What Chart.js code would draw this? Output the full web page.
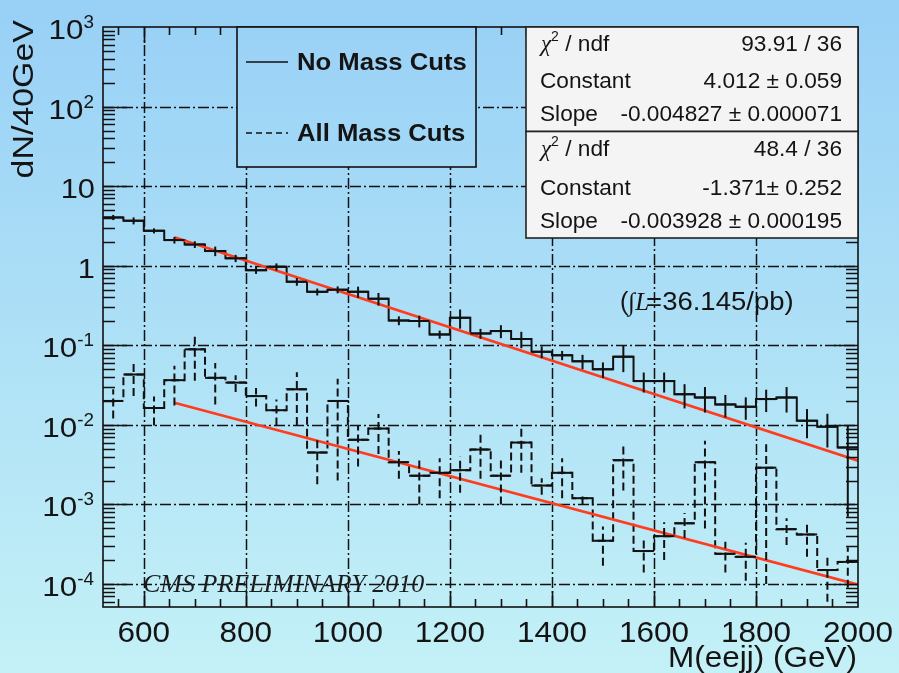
<!DOCTYPE html>
<html>
<head>
<meta charset="utf-8">
<script src="https://cdn.jsdelivr.net/npm/chart.js@4.4.1/dist/chart.umd.min.js"></script>
<style>
  html, body { margin: 0; padding: 0; overflow: hidden; }
  canvas { display: block; }
</style>
</head>
<body>
<canvas id="chart" width="899" height="673"></canvas>
<script>
// bins of 40 GeV, low edges
const binLow = [520, 560, 600, 640, 680, 720, 760, 800, 840, 880, 920, 960, 1000, 1040, 1080, 1120, 1160, 1200, 1240,
  1280, 1320, 1360, 1400, 1440, 1480, 1520, 1560, 1600, 1640, 1680, 1720, 1760, 1800, 1840, 1880, 1920, 1960];
const binWidth = 40;

// "No Mass Cuts" histogram
const noCuts = [4.05, 3.68, 2.75, 2.1, 1.85, 1.53, 1.24, 0.88, 0.97, 0.63, 0.47, 0.5, 0.471, 0.385, 0.205, 0.202, 0.137,
  0.222, 0.141, 0.151, 0.12, 0.083, 0.075, 0.063, 0.05, 0.072, 0.0355, 0.0355, 0.0243, 0.0221, 0.0181, 0.0169, 0.0211,
  0.0221, 0.0113, 0.0095, 0.0052];
const noCutsErr = [0.3, 0.37, 0.2, 0.2, 0.18, 0.21, 0.13, 0.09, 0.1, 0.07, 0.047, 0.05, 0.075, 0.07, 0.026, 0.034, 0.016,
  0.06, 0.02, 0.028, 0.028, 0.014, 0.01, 0.013, 0.011, 0.026, 0.01, 0.01, 0.0082, 0.0078, 0.0057, 0.0053, 0.0066,
  0.0078, 0.0045, 0.0043, 0.0045];

// "All Mass Cuts" histogram
const allCuts = [0.02, 0.043, 0.0163, 0.0365, 0.089, 0.039, 0.034, 0.023, 0.0153, 0.028, 0.0045, 0.02, 0.0065, 0.009,
  0.0034, 0.0023, 0.0025, 0.0027, 0.0049, 0.0023, 0.006, 0.00173, 0.0025, 0.0012, 0.00035, 0.0036, 0.00026, 0.0004,
  0.00058, 0.0034, 0.00024, 0.00022, 0.0029, 0.00049, 0.00042, 0.00015, 0.00019];
const allCutsErr = [0.008, 0.02, 0.0065, 0.019, 0.053, 0.021, 0.008, 0.006, 0.0055, 0.018, 0.0027, 0.018, 0.0035, 0.0047,
  0.0013, 0.0013, 0.0013, 0.0013, 0.0028, 0.0013, 0.0035, 0.0004, 0.0013, 0.0002, 0.00018, 0.0021, 0.00012, 0.0002,
  0.0002, 0.0029, 0.0001, 0.00011, 0.0028, 0.00018, 0.0002, 0.00009, 0.0001];

// exponential fits exp(c + s*x)
const fitConst = [4.012, -1.371];
const fitSlope = [-0.004827, -0.003928];
const fitRange = [660, 2000];

// axes
const xMin = 520, xMax = 2000;
const yMin = 5.15e-5, yMax = 1000;
const xTickLabels = [600, 800, 1000, 1200, 1400, 1600, 1800, 2000];
const yDecades = [-4, -3, -2, -1, 0, 1, 2, 3];

// stats boxes
const statRows = [
  [['chi', '93.91 / 36'], ['Constant', '4.012 \u00b1 0.059'], ['Slope', '-0.004827 \u00b1 0.000071']],
  [['chi', '48.4 / 36'], ['Constant', '-1.371\u00b1 0.252'], ['Slope', '-0.003928 \u00b1 0.000195']]
];

const SANS = '"Liberation Sans", Arial, sans-serif';
const SERIF = '"Liberation Serif", "Times New Roman", serif';

function histPoints(vals) {
  const pts = binLow.map((x, i) => ({ x: x, y: vals[i] }));
  pts.push({ x: binLow[binLow.length - 1] + binWidth, y: vals[vals.length - 1] });
  return pts;
}

function fitPoints(k) {
  return fitRange.map(x => ({ x: x, y: Math.exp(fitConst[k] + fitSlope[k] * x) }));
}

function bgGradient(ctx, h) {
  const g = ctx.createLinearGradient(0, 0, 0, h);
  g.addColorStop(0, 'rgb(152,208,246)');
  g.addColorStop(1, 'rgb(196,241,247)');
  return g;
}

// text with slight horizontal stretch like the original
function txt(ctx, s, x, y, font, align, sx, color) {
  ctx.save();
  ctx.font = font;
  ctx.fillStyle = color || '#141414';
  ctx.textAlign = 'left';
  ctx.textBaseline = 'alphabetic';
  const w = ctx.measureText(s).width * sx;
  const x0 = align === 'right' ? x - w : (align === 'center' ? x - w / 2 : x);
  ctx.translate(x0, y);
  ctx.scale(sx, 1);
  ctx.fillText(s, 0, 0);
  ctx.restore();
  return w;
}

function textWidth(ctx, s, font, sx) {
  ctx.save();
  ctx.font = font;
  const w = ctx.measureText(s).width * sx;
  ctx.restore();
  return w;
}

const backgroundPlugin = {
  id: 'bg',
  beforeDraw(chart) {
    const ctx = chart.ctx;
    ctx.save();
    ctx.fillStyle = bgGradient(ctx, chart.height);
    ctx.fillRect(0, 0, chart.width, chart.height);
    ctx.restore();
  }
};

// dash-dot grid
const gridPlugin = {
  id: 'rootGrid',
  beforeDatasetsDraw(chart) {
    const ctx = chart.ctx, a = chart.chartArea;
    const xs = chart.scales.x, ys = chart.scales.y;
    ctx.save();
    ctx.strokeStyle = '#111';
    ctx.lineWidth = 1.5;
    ctx.setLineDash([11, 3, 2, 3]);
    xTickLabels.forEach(v => {
      if (v >= xMax) return;
      const px = Math.round(xs.getPixelForValue(v)) + 0.5;
      ctx.beginPath();
      ctx.moveTo(px, a.bottom);
      ctx.lineTo(px, a.top);
      ctx.stroke();
    });
    yDecades.forEach(k => {
      const v = Math.pow(10, k);
      if (v >= yMax) return;
      const py = Math.round(ys.getPixelForValue(v)) + 0.5;
      ctx.beginPath();
      ctx.moveTo(a.left, py);
      ctx.lineTo(a.right, py);
      ctx.stroke();
    });
    ctx.restore();
  }
};

// error bars of both histograms
const errorPlugin = {
  id: 'errBars',
  afterDatasetsDraw(chart) {
    const ctx = chart.ctx;
    const xs = chart.scales.x, ys = chart.scales.y;
    const sets = [
      { vals: noCuts, errs: noCutsErr, dash: [] },
      { vals: allCuts, errs: allCutsErr, dash: [8, 4] }
    ];
    ctx.save();
    ctx.beginPath();
    ctx.rect(chart.chartArea.left, chart.chartArea.top, chart.chartArea.width, chart.chartArea.height);
    ctx.clip();
    ctx.strokeStyle = '#111';
    ctx.lineWidth = 2;
    sets.forEach(s => {
      s.vals.forEach((v, i) => {
        const xc = xs.getPixelForValue(binLow[i] + binWidth / 2);
        const lo = Math.max(v - s.errs[i], yMin);
        const hi = v + s.errs[i];
        ctx.setLineDash(s.dash);
        ctx.beginPath();
        ctx.moveTo(xc, ys.getPixelForValue(lo));
        ctx.lineTo(xc, ys.getPixelForValue(hi));
        ctx.stroke();
        ctx.setLineDash([]);
        const py = ys.getPixelForValue(v);
        ctx.beginPath();
        ctx.moveTo(xs.getPixelForValue(binLow[i]), py);
        ctx.lineTo(xs.getPixelForValue(binLow[i] + binWidth), py);
        ctx.stroke();
      });
    });
    ctx.restore();
  }
};

// frame, ticks, labels, legend, stats, texts
const decorPlugin = {
  id: 'decor',
  afterDraw(chart) {
    const ctx = chart.ctx, a = chart.chartArea;
    const xs = chart.scales.x, ys = chart.scales.y;
    ctx.save();
    ctx.strokeStyle = '#111';
    ctx.lineWidth = 1.6;
    ctx.setLineDash([]);

    // x ticks every 50 GeV, major every 200
    for (let v = 550; v < xMax; v += 50) {
      const px = Math.round(xs.getPixelForValue(v)) + 0.5;
      const len = (v % 200 === 0) ? 16 : 8;
      ctx.beginPath();
      ctx.moveTo(px, a.bottom); ctx.lineTo(px, a.bottom - len);
      ctx.moveTo(px, a.top); ctx.lineTo(px, a.top + len);
      ctx.stroke();
    }
    // y ticks, log minor
    for (let k = -5; k <= 2; k++) {
      for (let m = 1; m <= 9; m++) {
        const v = m * Math.pow(10, k);
        if (v < yMin || v > yMax) continue;
        const py = Math.round(ys.getPixelForValue(v)) + 0.5;
        const len = m === 1 ? 24 : 12;
        ctx.beginPath();
        ctx.moveTo(a.left, py); ctx.lineTo(a.left + len, py);
        ctx.moveTo(a.right, py); ctx.lineTo(a.right - len, py);
        ctx.stroke();
      }
    }
    ctx.strokeRect(a.left, a.top, a.right - a.left, a.bottom - a.top);

    // y tick labels
    const baseFont = '28px ' + SANS, supFont = '18px ' + SANS;
    yDecades.forEach(k => {
      const py = ys.getPixelForValue(Math.pow(10, k));
      if (k === 0 || k === 1) {
        txt(ctx, k === 0 ? '1' : '10', 95, py + 12, baseFont, 'right', 1.1);
      } else {
        const sup = String(k);
        const ws = textWidth(ctx, sup, supFont, 1.05);
        txt(ctx, sup, 94, py + 1, supFont, 'right', 1.05);
        txt(ctx, '10', 94 - ws, py + 12, baseFont, 'right', 1.12);
      }
    });
    // x tick labels
    xTickLabels.forEach(v => {
      txt(ctx, String(v), xs.getPixelForValue(v), 642, '30px ' + SANS, 'center', 1.05);
    });
    // axis titles
    txt(ctx, 'M(eejj) (GeV)', 857, 667, '30px ' + SANS, 'right', 1.05);
    ctx.save();
    ctx.translate(33, 20);
    ctx.rotate(-Math.PI / 2);
    txt(ctx, 'dN/40GeV', 0, 0, '29px ' + SANS, 'right', 1.17);
    ctx.restore();

    // legend box
    ctx.fillStyle = bgGradient(ctx, chart.height);
    ctx.fillRect(237, 27, 239, 140);
    ctx.strokeStyle = '#111';
    ctx.lineWidth = 1.6;
    ctx.strokeRect(237, 27, 239, 140);
    ctx.lineWidth = 1.6;
    ctx.beginPath(); ctx.moveTo(246, 62); ctx.lineTo(288, 62); ctx.stroke();
    ctx.setLineDash([6, 4]);
    ctx.beginPath(); ctx.moveTo(246, 133); ctx.lineTo(288, 133); ctx.stroke();
    ctx.setLineDash([]);
    txt(ctx, 'No Mass Cuts', 297, 70, 'bold 24px ' + SANS, 'left', 1.07);
    txt(ctx, 'All Mass Cuts', 297, 141, 'bold 24px ' + SANS, 'left', 1.07);

    // stats boxes
    const boxTop = [27, 131.5], boxH = [104.5, 106.5];
    const rowY = [[43, 80, 113], [148, 187, 220]];
    const statFont = '22px ' + SANS;
    statRows.forEach((rows, b) => {
      ctx.fillStyle = '#f4f4f4';
      ctx.fillRect(526, boxTop[b], 332, boxH[b]);
      ctx.strokeStyle = '#222';
      ctx.lineWidth = 1.6;
      ctx.strokeRect(526, boxTop[b], 332, boxH[b]);
      rows.forEach((r, i) => {
        const by = rowY[b][i] + 8;
        if (r[0] === 'chi') {
          const w1 = txt(ctx, '\u03c7', 541, by, 'italic 23px ' + SERIF, 'left', 1.0);
          const w2 = txt(ctx, '2', 541 + w1, by - 10, '14px ' + SANS, 'left', 1.0);
          txt(ctx, ' / ndf', 541 + w1 + w2, by, statFont, 'left', 1.03);
        } else {
          txt(ctx, r[0], 540, by, statFont, 'left', 1.03);
        }
        txt(ctx, r[1], 842, by, statFont, 'right', 1.03);
      });
    });

    // luminosity
    let lx = 620;
    const ly = 310;
    lx += txt(ctx, '(', lx, ly, '25px ' + SANS, 'left', 1.0);
    lx += txt(ctx, '\u222b', lx, ly, '25px ' + SERIF, 'left', 1.0);
    lx += txt(ctx, 'L', lx, ly, 'italic 25px ' + SERIF, 'left', 1.0) - 3;
    txt(ctx, '=36.145/pb)', lx, ly, '25px ' + SANS, 'left', 1.1);

    // preliminary label
    txt(ctx, 'CMS PRELIMINARY 2010', 143, 592, 'italic 25px ' + SERIF, 'left', 1.04, '#1c1c1c');

    ctx.restore();
  }
};

new Chart(document.getElementById('chart'), {
  type: 'line',
  data: {
    datasets: [
      {
        label: 'fit no cuts',
        data: fitPoints(0),
        borderColor: 'rgb(255,60,30)',
        borderWidth: 2.6,
        pointRadius: 0,
        fill: false
      },
      {
        label: 'fit all cuts',
        data: fitPoints(1),
        borderColor: 'rgb(255,60,30)',
        borderWidth: 2.6,
        pointRadius: 0,
        fill: false
      },
      {
        label: 'No Mass Cuts',
        data: histPoints(noCuts),
        borderColor: '#111',
        borderWidth: 2,
        pointRadius: 0,
        stepped: true,
        fill: false
      },
      {
        label: 'All Mass Cuts',
        data: histPoints(allCuts),
        borderColor: '#111',
        borderWidth: 2,
        borderDash: [8, 4],
        pointRadius: 0,
        stepped: true,
        fill: false
      }
    ]
  },
  options: {
    responsive: false,
    animation: false,
    devicePixelRatio: 1,
    layout: { padding: { left: 103, right: 41, top: 27, bottom: 66 } },
    plugins: {
      legend: { display: false },
      tooltip: { enabled: false }
    },
    scales: {
      x: { type: 'linear', min: xMin, max: xMax, display: false },
      y: { type: 'logarithmic', min: yMin, max: yMax, display: false }
    }
  },
  plugins: [backgroundPlugin, gridPlugin, errorPlugin, decorPlugin]
});
</script>
</body>
</html>
